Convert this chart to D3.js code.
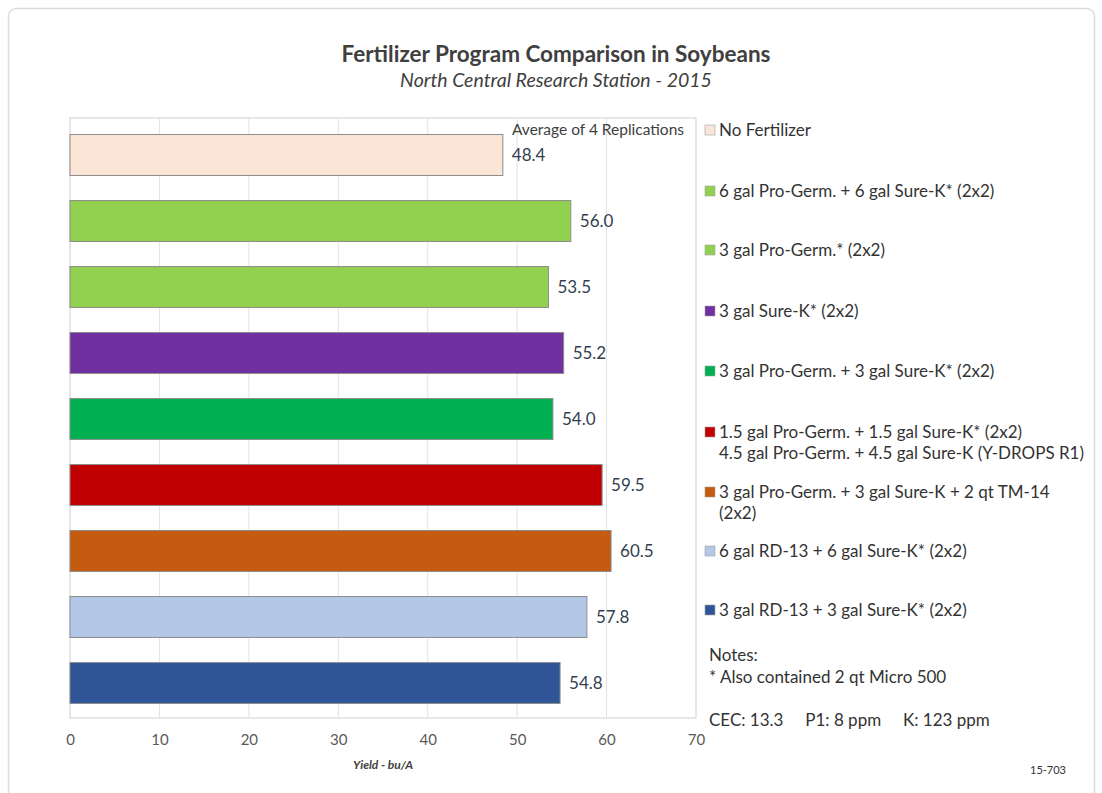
<!DOCTYPE html>
<html>
<head>
<meta charset="utf-8">
<script src="https://cdn.jsdelivr.net/npm/d3@7"></script>
<style>
  body { margin: 0; background: #fff; }
  text { font-family: Lato, "Open Sans", sans-serif; }
</style>
</head>
<body>
<script>
'use strict';

let WIDTH = 1102;
let HEIGHT = 793;

// chart data, top bar first
let treatments = [
    ['No Fertilizer'],
    ['6 gal Pro-Germ. + 6 gal Sure-K* (2x2)'],
    ['3 gal Pro-Germ.* (2x2)'],
    ['3 gal Sure-K* (2x2)'],
    ['3 gal Pro-Germ. + 3 gal Sure-K* (2x2)'],
    ['1.5 gal Pro-Germ. + 1.5 gal Sure-K* (2x2)', '4.5 gal Pro-Germ. + 4.5 gal Sure-K (Y-DROPS R1)'],
    ['3 gal Pro-Germ. + 3 gal Sure-K + 2 qt TM-14', '(2x2)'],
    ['6 gal RD-13 + 6 gal Sure-K* (2x2)'],
    ['3 gal RD-13 + 3 gal Sure-K* (2x2)']
];
let yields = [48.4, 56.0, 53.5, 55.2, 54.0, 59.5, 60.5, 57.8, 54.8];
let barColors = ['#fbe5d6', '#92d050', '#92d050', '#7030a0', '#00b050',
    '#c00000', '#c55a11', '#b4c7e7', '#2f5597'];
let xTicks = [0, 10, 20, 30, 40, 50, 60, 70];
let notes = ['Notes:', '* Also contained 2 qt Micro 500'];
let soilLine = 'CEC: 13.3     P1: 8 ppm     K: 123 ppm';

let svg = d3.select('body')
    .append('svg')
    .attr('width', WIDTH)
    .attr('height', HEIGHT);

// card border
svg.append('rect')
    .attr('x', 8.5).attr('y', 8.5)
    .attr('width', 1086).attr('height', 820)
    .attr('rx', 8)
    .attr('fill', '#fff')
    .attr('stroke', '#dcdcdc')
    .attr('stroke-width', 1.5);

// titles
svg.append('text')
    .attr('x', 556).attr('y', 62)
    .attr('text-anchor', 'middle')
    .attr('font-size', 22.5)
    .attr('font-weight', 'bold')
    .attr('fill', '#404040')
    .text('Fertilizer Program Comparison in Soybeans');

svg.append('text')
    .attr('x', 556).attr('y', 87)
    .attr('text-anchor', 'middle')
    .attr('font-size', 19.5)
    .attr('font-style', 'italic')
    .attr('fill', '#404040')
    .text('North Central Research Station - 2015');

let plot = { left: 70, right: 696, top: 118, bottom: 718 };

let x = d3.scaleLinear()
    .domain([0, 70])
    .range([plot.left, plot.right]);

let y = d3.scaleBand()
    .domain(d3.range(yields.length))
    .range([122, 716])
    .paddingInner(0.38)
    .paddingOuter(0.19);

// plot frame
svg.append('rect')
    .attr('x', plot.left).attr('y', plot.top)
    .attr('width', plot.right - plot.left)
    .attr('height', plot.bottom - plot.top)
    .attr('fill', 'none')
    .attr('stroke', '#d0d0d0');

// gridlines
svg.selectAll('.grid')
    .data(xTicks.slice(1, -1))
    .enter()
    .append('line')
    .attr('class', 'grid')
    .attr('x1', (d) => x(d)).attr('x2', (d) => x(d))
    .attr('y1', plot.top).attr('y2', plot.bottom)
    .attr('stroke', '#e2e2e2');

// x axis, drawn with d3.axisBottom, then restyled
let xAxis = svg.append('g')
    .attr('transform', 'translate(0,' + plot.bottom + ')')
    .call(d3.axisBottom(x).tickValues(xTicks).tickSize(0).tickPadding(16));
xAxis.select('.domain').remove();
xAxis.selectAll('text')
    .attr('font-family', 'Lato, sans-serif')
    .attr('font-size', 15)
    .attr('fill', '#595959');

svg.append('text')
    .attr('x', 383).attr('y', 769)
    .attr('text-anchor', 'middle')
    .attr('font-size', 12)
    .attr('font-weight', 'bold')
    .attr('font-style', 'italic')
    .attr('fill', '#404040')
    .text('Yield - bu/A');

// bars
svg.selectAll('.bar')
    .data(yields)
    .enter()
    .append('rect')
    .attr('class', 'bar')
    .attr('x', x(0))
    .attr('y', (d, i) => y(i))
    .attr('width', (d) => x(d) - x(0))
    .attr('height', y.bandwidth())
    .attr('fill', (d, i) => barColors[i])
    .attr('stroke', '#8c8c8c')
    .attr('stroke-width', 1);

// value labels
svg.selectAll('.val')
    .data(yields)
    .enter()
    .append('text')
    .attr('class', 'val')
    .attr('x', (d) => x(d) + 9)
    .attr('y', (d, i) => y(i) + y.bandwidth() / 2 + 6)
    .attr('font-size', 17)
    .attr('fill', '#333f50')
    .text((d) => d.toFixed(1));

svg.append('text')
    .attr('x', 512).attr('y', 135)
    .attr('font-size', 15.5)
    .attr('fill', '#404040')
    .text('Average of 4 Replications');

// legend
let legendY = [130, 191, 250, 311, 371, 432, 492, 551, 610];
let legend = svg.selectAll('.legend')
    .data(treatments)
    .enter()
    .append('g')
    .attr('class', 'legend')
    .attr('transform', (d, i) => 'translate(705,' + legendY[i] + ')');

legend.append('rect')
    .attr('x', 0).attr('y', -5)
    .attr('width', 10).attr('height', 10)
    .attr('fill', (d, i) => barColors[i])
    .attr('stroke', '#a0a0a0')
    .attr('stroke-width', 0.6);

legend.selectAll('text')
    .data((d) => d)
    .enter()
    .append('text')
    .attr('x', 14)
    .attr('y', (d, j) => 6 + j * 21)
    .attr('font-size', 17)
    .attr('fill', '#333')
    .text((d) => d);

// notes
svg.selectAll('.note')
    .data(notes)
    .enter()
    .append('text')
    .attr('class', 'note')
    .attr('x', 709)
    .attr('y', (d, i) => 661 + i * 22)
    .attr('font-size', 17)
    .attr('fill', '#333')
    .text((d) => d);

svg.append('text')
    .attr('x', 709).attr('y', 726)
    .attr('font-size', 17)
    .attr('fill', '#333')
    .attr('xml:space', 'preserve')
    .style('white-space', 'pre')
    .text(soilLine);

svg.append('text')
    .attr('x', 1030).attr('y', 774)
    .attr('font-size', 11)
    .attr('fill', '#333')
    .text('15-703');
</script>
</body>
</html>
